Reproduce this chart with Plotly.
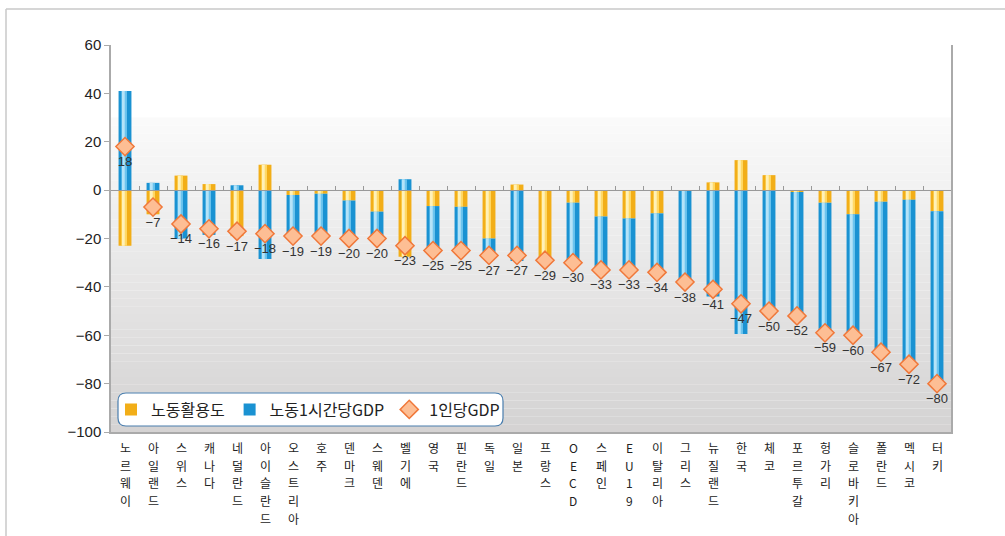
import plotly.graph_objects as go

countries = ["노르웨이","아일랜드","스위스","캐나다","네덜란드","아이슬란드","오스트리아","호주","덴마크","스웨덴",
             "벨기에","영국","핀란드","독일","일본","프랑스","OECD","스페인","EU19","이탈리아",
             "그리스","뉴질랜드","한국","체코","포르투갈","헝가리","슬로바키아","폴란드","멕시코","터키"]
labor_util = [-23, -10, 6, 2.5, -19, 10.5, -2, -1.5, -4.3, -8.9,
              -27.5, -6.6, -6.9, -20, 2.3, -29, -5.2, -10.9, -11.7, -9.6,
              0, 3.2, 12.4, 6.2, -0.8, -5.2, -10, -4.8, -4, -8.7]
productivity = [41, 3, -20, -18.5, 2, -28.5, -17, -17.5, -15.7, -11.1,
                4.5, -18.4, -18.1, -7, -29.3, 0, -24.8, -22.1, -21.3, -24.4,
                -38, -44, -59.5, -51.5, -51.5, -53.8, -50, -62.2, -68, -71.3]
gdp_pc = [18, -7, -14, -16, -17, -18, -19, -19, -20, -20,
          -23, -25, -25, -27, -27, -29, -30, -33, -33, -34,
          -38, -41, -47, -50, -52, -59, -60, -67, -72, -80]
y_ticks = [60, 40, 20, 0, -20, -40, -60, -80, -100]

FONT = "Noto Sans CJK KR"
xs = list(range(len(countries)))

def fmt(v):
    return ("\u2212" + str(abs(v))) if v < 0 else str(v)

fig = go.Figure()
# base bars (stacked relative on x/y)
fig.add_trace(go.Bar(x=xs, y=labor_util, name="노동활용도", width=0.46,
                     marker=dict(color="#F2AE18", line=dict(width=0))))
fig.add_trace(go.Bar(x=xs, y=productivity, name="노동1시간당GDP", width=0.46,
                     marker=dict(color="#1A92D2", line=dict(width=0))))
# highlight bands (stacked separately on overlay axes) for cylinder look
fig.add_trace(go.Bar(x=xs, y=labor_util, xaxis="x2", width=0.2, offset=-0.13, showlegend=False,
                     hoverinfo="skip", marker=dict(color="#FFD966", line=dict(width=0))))
fig.add_trace(go.Bar(x=xs, y=productivity, xaxis="x2", width=0.2, offset=-0.13, showlegend=False,
                     hoverinfo="skip", marker=dict(color="#6CC4EE", line=dict(width=0))))
fig.add_trace(go.Bar(x=xs, y=labor_util, xaxis="x3", width=0.07, offset=-0.08, showlegend=False,
                     hoverinfo="skip", marker=dict(color="#FFF1B8", line=dict(width=0))))
fig.add_trace(go.Bar(x=xs, y=productivity, xaxis="x3", width=0.07, offset=-0.08, showlegend=False,
                     hoverinfo="skip", marker=dict(color="#B5E3F8", line=dict(width=0))))
# markers on the topmost overlay so they sit above all bars
fig.add_trace(go.Scatter(x=xs, y=gdp_pc, xaxis="x3", name="1인당GDP", mode="markers+text",
                         marker=dict(symbol="diamond", size=14, color="#FDBE94",
                                     line=dict(color="#F0783A", width=1.5)),
                         text=[fmt(v) for v in gdp_pc], textposition="bottom center",
                         textfont=dict(family="Liberation Sans", size=13, color="#333333")))

# plot-area coordinates helpers (pixels -> paper)
L, R, T, B = 111, 951, 45, 432
W, H = R - L, B - T
def px(X): return (X - L) / W
def py(Y): return (B - Y) / H

shapes = []
top_v, bot_v = 30, -100
n = 40
c0 = (250, 250, 250); c1 = (213, 211, 211)
for i in range(n):
    f = i / (n - 1)
    col = tuple(int(c0[k] + (c1[k] - c0[k]) * f) for k in range(3))
    y_hi = top_v - (top_v - bot_v) * i / n
    y_lo = top_v - (top_v - bot_v) * (i + 1) / n
    shapes.append(dict(type="rect", xref="x", yref="y", x0=-0.5, x1=29.5, y0=y_lo, y1=y_hi,
                       fillcolor="rgb(%d,%d,%d)" % col, line=dict(width=0), layer="below"))

# rounded legend box
x0, x1, y0, y1 = 118, 503, 393, 426
r = 8
path = (f"M {px(x0+r)},{py(y0)} L {px(x1-r)},{py(y0)} Q {px(x1)},{py(y0)} {px(x1)},{py(y0+r)} "
        f"L {px(x1)},{py(y1-r)} Q {px(x1)},{py(y1)} {px(x1-r)},{py(y1)} "
        f"L {px(x0+r)},{py(y1)} Q {px(x0)},{py(y1)} {px(x0)},{py(y1-r)} "
        f"L {px(x0)},{py(y0+r)} Q {px(x0)},{py(y0)} {px(x0+r)},{py(y0)} Z")
shapes.append(dict(type="path", xref="paper", yref="paper", path=path,
                   fillcolor="#ffffff", line=dict(color="#4A7EAE", width=1.2), layer="above"))
# outer frame (top & left)
shapes.append(dict(type="line", xref="paper", yref="paper", x0=px(6), x1=px(1005), y0=py(9), y1=py(9),
                   line=dict(color="#C8C8C8", width=1.5)))
shapes.append(dict(type="line", xref="paper", yref="paper", x0=px(6), x1=px(6), y0=py(9), y1=py(536),
                   line=dict(color="#C8C8C8", width=1.5)))

# vertical category labels: one character per line
annotations = []
step = 17.5
for i, name in enumerate(countries):
    for k, ch in enumerate(name):
        annotations.append(dict(x=i, xref="x", y=py(448), yref="paper", text=ch, showarrow=False,
                                xanchor="center", yanchor="middle", yshift=-k * step,
                                font=dict(family=FONT, size=12, color="#222222")))

fig.update_layout(
    width=1005, height=536,
    margin=dict(l=L, r=1005 - R, t=T, b=536 - B),
    barmode="relative",
    paper_bgcolor="#ffffff", plot_bgcolor="#ffffff",
    font=dict(family=FONT, color="#222222"),
    shapes=shapes, annotations=annotations,
    showlegend=True,
    legend=dict(orientation="h", x=px(111), y=py(409.5), xanchor="left", yanchor="middle",
                bgcolor="rgba(0,0,0,0)", borderwidth=0, font=dict(family=FONT, size=16, color="#222"),
                itemwidth=30, tracegroupgap=0),
    xaxis=dict(range=[-0.5, 29.5], tickmode="array", tickvals=xs, showticklabels=False,
               showgrid=False, zeroline=False, showline=True, linecolor="#AAAAAA", linewidth=1.5,
               ticks="", fixedrange=True),
    xaxis2=dict(range=[-0.5, 29.5], overlaying="x", side="top", anchor="free",
                position=(0 - (-100)) / 160, tickmode="array",
                tickvals=[i + 0.5 for i in range(29)], ticks="outside", ticklen=4,
                tickcolor="#999999", showticklabels=False, showgrid=False, zeroline=False,
                showline=True, linecolor="#999999", linewidth=1),
    xaxis3=dict(range=[-0.5, 29.5], overlaying="x", visible=False),
    yaxis=dict(range=[-100, 60], tickmode="array", tickvals=y_ticks,
               ticktext=[fmt(v) for v in y_ticks], tickfont=dict(family="Liberation Sans", size=15, color="#222"),
               showgrid=False, zeroline=False, showline=True, mirror=True,
               linecolor="#AAAAAA", linewidth=1.5, ticks="outside", ticklen=5, tickcolor="#AAAAAA"),
)
fig.write_html("out.html")
